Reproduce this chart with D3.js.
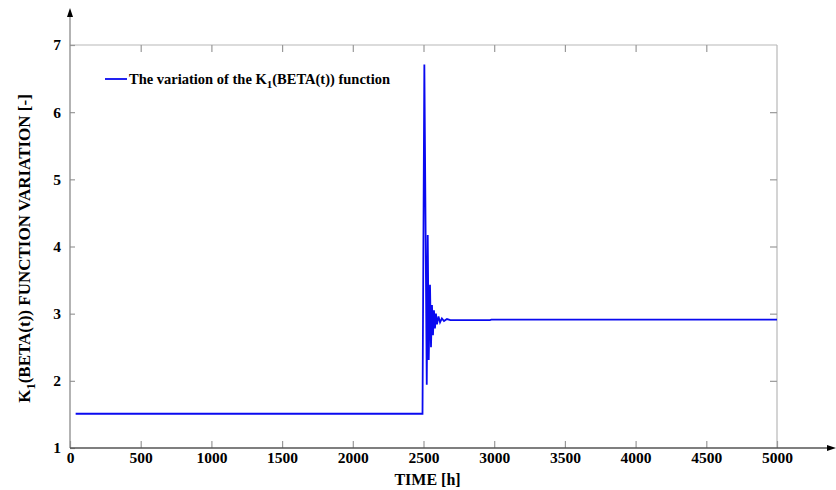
<!DOCTYPE html>
<html>
<head>
<meta charset="utf-8">
<script src="https://cdn.jsdelivr.net/npm/d3@7"></script>
<style>
  body { margin: 0; background: #fff; }
  svg text { font-family: "Liberation Serif", "Times New Roman", serif; font-weight: bold; fill: #000; }
</style>
</head>
<body>
<svg id="chart"></svg>
<script>
// data
const timeH = [40, 2493, 2506, 2523, 2530, 2537, 2546, 2553, 2560, 2567, 2574, 2581, 2588, 2595, 2606, 2617, 2630, 2645, 2666, 2690, 2970, 2980, 5000];
const k1Val = [1.51, 1.51, 6.71, 1.94, 4.17, 2.31, 3.43, 2.5, 3.13, 2.68, 3.05, 2.78, 3.0, 2.84, 2.96, 2.87, 2.93, 2.89, 2.92, 2.905, 2.905, 2.91, 2.91];
const xTicks = [0, 500, 1000, 1500, 2000, 2500, 3000, 3500, 4000, 4500, 5000];
const yTicks = [1, 2, 3, 4, 5, 6, 7];

const width = 836, height = 490;
const serif = '"Liberation Serif", "Times New Roman", serif';
const svg = d3.select('#chart')
  .attr('width', width)
  .attr('height', height);

const x = d3.scaleLinear().domain([0, 5000]).range([70, 777]);
const y = d3.scaleLinear().domain([1, 7]).range([448, 45]);

// top and right box lines
svg.append('line')
  .attr('x1', x(0)).attr('x2', x(5000))
  .attr('y1', y(7)).attr('y2', y(7))
  .attr('stroke', '#b8b8b8').attr('stroke-width', 1.2);
svg.append('line')
  .attr('x1', x(5000)).attr('x2', x(5000))
  .attr('y1', y(7)).attr('y2', y(1))
  .attr('stroke', '#b8b8b8').attr('stroke-width', 1.2);

// bottom axis, ticks pointing inward
const xAxis = svg.append('g')
  .attr('transform', `translate(0, ${y(1)})`)
  .call(d3.axisBottom(x).tickValues(xTicks).tickSize(-7).tickPadding(4).tickFormat(d3.format('d')))
  .attr('font-family', serif);
xAxis.select('.domain').remove();
xAxis.selectAll('line').attr('stroke', '#999').attr('stroke-width', 1.2);
xAxis.selectAll('text').style('font-size', '15.5px').attr('fill', '#000');

// top ticks
svg.append('g')
  .attr('transform', `translate(0, ${y(7)})`)
  .call(d3.axisTop(x).tickValues(xTicks.slice(1, -1)).tickSize(-7).tickFormat(''))
  .call(g => g.select('.domain').remove())
  .selectAll('line').attr('stroke', '#999').attr('stroke-width', 1.2);

// left axis
const yAxis = svg.append('g')
  .attr('transform', `translate(${x(0)}, 0)`)
  .call(d3.axisLeft(y).tickValues(yTicks).tickSize(-5).tickPadding(9).tickFormat(d3.format('d')))
  .attr('font-family', serif);
yAxis.select('.domain').remove();
yAxis.selectAll('line').attr('stroke', '#999').attr('stroke-width', 1.2);
yAxis.selectAll('text').style('font-size', '15.5px').attr('fill', '#000');

// right ticks
svg.append('g')
  .attr('transform', `translate(${x(5000)}, 0)`)
  .call(d3.axisRight(y).tickValues(yTicks.slice(1, -1)).tickSize(-7).tickFormat(''))
  .call(g => g.select('.domain').remove())
  .selectAll('line').attr('stroke', '#999').attr('stroke-width', 1.2);

// axis lines with arrows
svg.append('line')
  .attr('x1', x(0)).attr('x2', x(0))
  .attr('y1', y(1)).attr('y2', 12)
  .attr('stroke', '#8a8a8a').attr('stroke-width', 1.3);
svg.append('line')
  .attr('x1', x(0)).attr('x2', 832)
  .attr('y1', y(1)).attr('y2', y(1))
  .attr('stroke', '#555').attr('stroke-width', 1.3);
svg.append('path')
  .attr('d', `M${x(0)},8 L${x(0) - 3},17 L${x(0) + 3},17 Z`)
  .attr('fill', '#000');
svg.append('path')
  .attr('d', `M836,${y(1)} L827,${y(1) - 3} L827,${y(1) + 3} Z`)
  .attr('fill', '#000');

// the series
const line = d3.line()
  .x((d, i) => x(timeH[i]))
  .y(d => y(d));
svg.append('path')
  .datum(k1Val)
  .attr('d', line)
  .attr('fill', 'none')
  .attr('stroke', '#0a0af0')
  .attr('stroke-width', 1.8)
  .attr('stroke-linejoin', 'miter');

// legend
svg.append('line')
  .attr('x1', 105).attr('x2', 127)
  .attr('y1', 79).attr('y2', 79)
  .attr('stroke', '#0a0af0').attr('stroke-width', 1.8);
const leg = svg.append('text')
  .attr('x', 129).attr('y', 84)
  .style('font-size', '14.5px');
leg.append('tspan').text('The variation of the K');
leg.append('tspan').attr('dy', 4).style('font-size', '11px').text('1');
leg.append('tspan').attr('dy', -4).text('(BETA(t)) function');

// axis titles
svg.append('text')
  .attr('x', x(2500) + 4).attr('y', 485)
  .attr('text-anchor', 'middle')
  .style('font-size', '16px')
  .text('TIME [h]');

const yt = svg.append('text')
  .attr('transform', `translate(30, ${y(4) + 2}) rotate(-90)`)
  .attr('text-anchor', 'middle')
  .style('font-size', '17px');
yt.append('tspan').text('K');
yt.append('tspan').attr('dy', 5).style('font-size', '12.5px').text('1');
yt.append('tspan').attr('dy', -5).text('(BETA(t)) FUNCTION VARIATION [-]');
</script>
</body>
</html>
